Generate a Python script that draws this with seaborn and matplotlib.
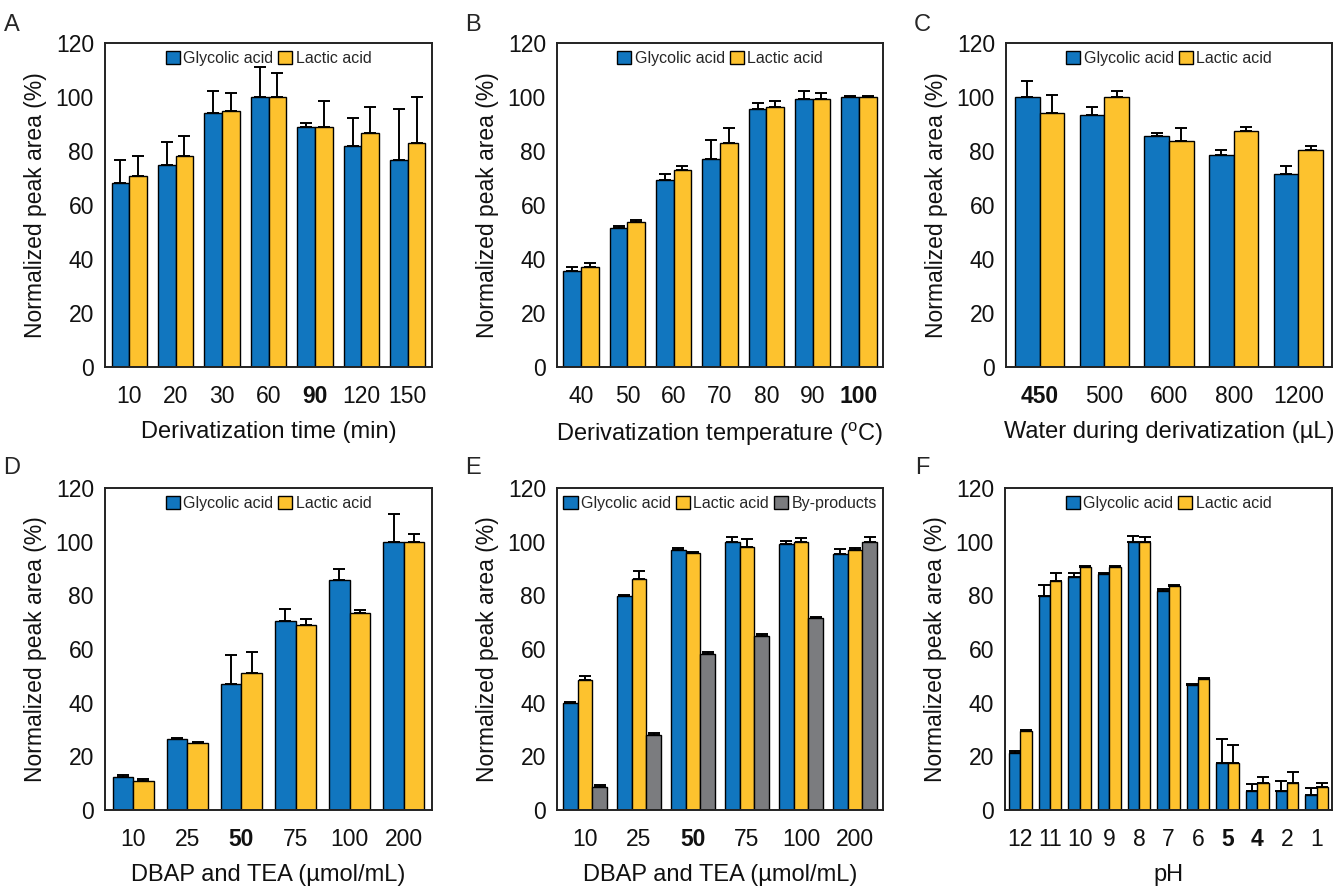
import matplotlib
matplotlib.use('Agg')
import matplotlib.pyplot as plt
import numpy as np
import pandas as pd
import seaborn as sns

SERIES = ['Glycolic acid', 'Lactic acid', 'By-products']
COLORS = {'Glycolic acid': '#1176BF', 'Lactic acid': '#FDC22E', 'By-products': '#7B7C7F'}

# A - derivatization time
a_cats = ['10', '20', '30', '60', '90', '120', '150']
a_gly = [68, 75, 94, 100, 89, 82, 76.5]
a_gly_sd = [8.5, 8.2, 8.3, 11, 1.4, 10.3, 19.2]
a_lac = [70.7, 78, 94.8, 100, 89, 86.8, 83]
a_lac_sd = [7.3, 7.4, 6.6, 9, 9.6, 9.5, 17]

# B - derivatization temperature
b_cats = ['40', '50', '60', '70', '80', '90', '100']
b_gly = [35.5, 51.5, 69.2, 77.2, 95.7, 99.4, 100]
b_gly_sd = [1.5, 0.7, 2.2, 6.7, 2.1, 2.9, 0.3]
b_lac = [36.9, 53.8, 72.8, 83, 96.3, 99.3, 99.9]
b_lac_sd = [1.5, 0.7, 1.6, 5.4, 2.3, 2.2, 0.3]

# C - water volume
c_cats = ['450', '500', '600', '800', '1200']
c_gly = [100, 93.4, 85.4, 78.7, 71.4]
c_gly_sd = [5.9, 2.9, 1.4, 1.5, 3.0]
c_lac = [94, 100, 83.8, 87.5, 80.2]
c_lac_sd = [6.7, 2.2, 4.6, 1.5, 1.5]

# D - DBAP and TEA
d_cats = ['10', '25', '50', '75', '100', '200']
d_gly = [12.2, 26.3, 46.8, 70.3, 85.9, 99.9]
d_gly_sd = [0.8, 0.6, 11.1, 4.5, 3.8, 10.4]
d_lac = [10.9, 24.8, 51.2, 69, 73.5, 99.9]
d_lac_sd = [0.6, 0.6, 7.6, 2.1, 1.2, 3.0]

# E - DBAP and TEA with by-products
e_cats = ['10', '25', '50', '75', '100', '200']
e_gly = [39.8, 79.6, 97, 100, 99.2, 95.5]
e_gly_sd = [0.5, 0.6, 0.6, 1.6, 0.9, 1.9]
e_lac = [48.5, 86, 95.8, 98, 100, 97]
e_lac_sd = [1.6, 3.2, 0.4, 2.9, 1.5, 0.6]
e_byp = [8.7, 28, 58.2, 64.9, 71.5, 100]
e_byp_sd = [0.6, 0.6, 0.6, 0.6, 0.6, 1.6]

# F - pH
f_cats = ['12', '11', '10', '9', '8', '7', '6', '5', '4', '2', '1']
f_gly = [21.4, 79.6, 87, 87.9, 100, 81.8, 46.5, 17.7, 7.2, 7.2, 5.6]
f_gly_sd = [0.5, 4.4, 1.4, 0.5, 2.2, 0.5, 0.5, 8.8, 2.4, 3.7, 2.5]
f_lac = [29.5, 85.3, 90.6, 90.6, 100, 83.3, 48.7, 17.7, 10.2, 10.2, 8.6]
f_lac_sd = [0.5, 3.0, 0.4, 0.4, 1.6, 0.5, 0.5, 6.7, 2.2, 3.8, 1.6]

PANELS = [
    ('A', a_cats, [a_gly, a_lac], [a_gly_sd, a_lac_sd], 'Derivatization time (min)', ['90']),
    ('B', b_cats, [b_gly, b_lac], [b_gly_sd, b_lac_sd], 'Derivatization temperature ($\\mathregular{^oC}$)', ['100']),
    ('C', c_cats, [c_gly, c_lac], [c_gly_sd, c_lac_sd], 'Water during derivatization (\u00b5L)', ['450']),
    ('D', d_cats, [d_gly, d_lac], [d_gly_sd, d_lac_sd], 'DBAP and TEA (\u00b5mol/mL)', ['50']),
    ('E', e_cats, [e_gly, e_lac, e_byp], [e_gly_sd, e_lac_sd, e_byp_sd], 'DBAP and TEA (\u00b5mol/mL)', ['50']),
    ('F', f_cats, [f_gly, f_lac], [f_gly_sd, f_lac_sd], 'pH', ['5', '4']),
]

# axes boxes in pixels: left, top, right, bottom
BOXES = [
    (105, 43, 432, 367), (557, 43, 883, 367), (1006, 43, 1332, 367),
    (105, 488, 432, 810), (557, 488, 883, 810), (1005, 488, 1332, 810),
]
LETTER_POS = [(12, 25), (473, 25), (922, 25), (12, 468), (473, 468), (922, 468)]

W, H = 1338, 886

sns.set_style('white')
plt.rcParams['font.family'] = ['Liberation Sans', 'DejaVu Sans']
plt.rcParams['mathtext.fontset'] = 'custom'
plt.rcParams['mathtext.rm'] = 'Liberation Sans'

fig = plt.figure(figsize=(W / 100, H / 100), dpi=100)

for (letter, cats, values, sds, xlabel, bold), (l, t, r, b), (lx, ly) in zip(PANELS, BOXES, LETTER_POS):
    ax = fig.add_axes([l / W, 1 - b / H, (r - l) / W, (b - t) / H])
    names = SERIES[:len(values)]
    df = pd.concat([
        pd.DataFrame({'cat': cats, 'value': v, 'series': n}) for n, v in zip(names, values)
    ])
    bar_width = 0.81 if len(names) == 3 else 0.76
    sns.barplot(data=df, x='cat', y='value', hue='series', order=cats, hue_order=names,
                palette=COLORS, saturation=1, width=bar_width, gap=0, edgecolor='black',
                linewidth=1.0, errorbar=None, ax=ax)

    # upper error bars only
    for container, sd in zip(ax.containers, sds):
        xs = [p.get_x() + p.get_width() / 2 for p in container.patches]
        ys = [p.get_height() for p in container.patches]
        ax.errorbar(xs, ys, yerr=[np.zeros(len(sd)), sd], fmt='none', ecolor='black',
                    elinewidth=1.4, capsize=4, capthick=1.4, zorder=1)

    ax.set_ylim(0, 120)
    ax.set_yticks(range(0, 121, 20))
    ax.set_xlim(-0.52, len(cats) - 0.48)
    ax.tick_params(axis='both', length=0, labelsize=16.5, colors='#111111')
    ax.tick_params(axis='x', pad=13)
    ax.tick_params(axis='y', pad=8)
    for lbl in ax.get_xticklabels():
        if lbl.get_text() in bold:
            lbl.set_fontweight('bold')
    ax.set_xlabel(xlabel, fontsize=17, labelpad=9, color='#111111')
    ax.set_ylabel('Normalized peak area (%)', fontsize=16.5, labelpad=6, color='#111111')
    for s in ax.spines.values():
        s.set_visible(True)
        s.set_color('#222222')
        s.set_linewidth(1.4)

    handles, labels = ax.get_legend_handles_labels()
    ax.legend(handles, labels, loc='upper center', bbox_to_anchor=(0.5, 1.01), ncol=len(labels),
              frameon=False, fontsize=11.5, handlelength=0.9, handleheight=0.9,
              handletextpad=0.2, columnspacing=0.3, borderaxespad=0.3)

    fig.text(lx / W, 1 - ly / H, letter, fontsize=17, ha='center', va='center')

fig.savefig('out.png', dpi=100)
